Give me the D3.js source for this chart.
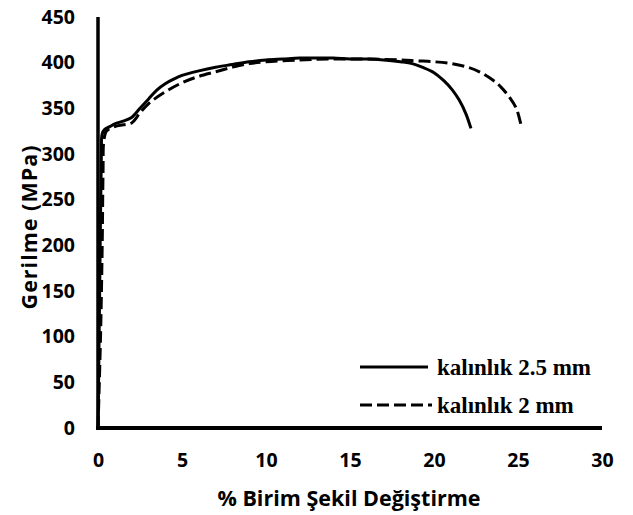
<!DOCTYPE html>
<html><head><meta charset="utf-8">
<script src="https://cdn.jsdelivr.net/npm/d3@7"></script>
<style>body{margin:0;background:#fff}</style>
</head><body>
<script>
const xTicks = [0,5,10,15,20,25,30];
const yTicks = [0,50,100,150,200,250,300,350,400,450];
const seriesNames = ["kalınlık 2.5 mm","kalınlık 2 mm"];
const strain25 = [0,0.1,0.2,0.25,0.4,0.7,1.0,1.5,2.0,2.5,3.0,3.5,4.0,4.5,5.0,6.0,7.0,8.0,9.0,10,11,12,13,14,15,16,17,18,18.7,19.3,20,20.6,21.1,21.5,21.9,22.2];
const stress25 = [0,150,300,322,327,330,333,336,340,350,360,370,377,382,386,391,395,398,401,403,404,405,405,405,404,404,403,401,399,395,389,380,370,359,344,328];
const strain2 = [0,0.15,0.25,0.3,0.35,0.5,1,1.5,2,2.5,3,4,5,6,7,8,9,10,12,14,16,18,19,20,21,22,22.7,23.5,24,24.5,24.9,25.2];
const stress2 = [0,100,200,280,315,325,330,332,334,345,355,368,378,385,390,395,399,401,403,404,404,403,402,401,399,395,390,381,373,362,350,330];

const W=633,H=515;
const svg=d3.select("body").append("svg").attr("width",W).attr("height",H);
const x=d3.scaleLinear().domain([0,30]).range([98,602]);
const y=d3.scaleLinear().domain([0,450]).range([428,17]);
const tickFont="'Open Sans', sans-serif";

const d25=strain25.map((v,i)=>[v,stress25[i]]);
const d2=strain2.map((v,i)=>[v,stress2[i]]);
const lineY=d3.line().x(d=>x(d[0])).y(d=>y(d[1])).curve(d3.curveCatmullRom);

svg.append("path").attr("d",lineY(d2)).attr("fill","none").attr("stroke","#000").attr("stroke-width",3).attr("stroke-dasharray","12,5");
svg.append("path").attr("d",lineY(d25)).attr("fill","none").attr("stroke","#000").attr("stroke-width",3);

// axes
const gx=svg.append("g").attr("transform","translate(0,428)").call(d3.axisBottom(x).tickValues(xTicks).tickSize(0).tickPadding(25));
const gy=svg.append("g").attr("transform","translate(98,0)").call(d3.axisLeft(y).tickValues(yTicks).tickSize(0).tickPadding(23));
[gx,gy].forEach(g=>{
  g.select(".domain").attr("stroke","#000").attr("stroke-width",3.5);
  g.selectAll("text").attr("font-family",tickFont).attr("font-weight","bold").attr("font-size",19.5).attr("fill","#000");
});
gx.select(".domain").attr("stroke-width",4).attr("d","M96,0H602");
gy.select(".domain").attr("d","M0,17V430");

svg.append("text").attr("x",349).attr("y",506).attr("text-anchor","middle").attr("font-family",tickFont).attr("font-weight","bold").attr("font-size",21.5).text("% Birim Şekil Değiştirme");
svg.append("text").attr("transform","translate(37,227) rotate(-90)").attr("text-anchor","middle").attr("font-family",tickFont).attr("font-weight","bold").attr("font-size",21.5).attr("letter-spacing",1).text("Gerilme (MPa)");

// legend
const lg=svg.append("g");
const legY=[367,405];
seriesNames.forEach((n,i)=>{
  lg.append("line").attr("x1",360).attr("x2",i?432:428).attr("y1",legY[i]).attr("y2",legY[i]).attr("stroke","#000").attr("stroke-width",3).attr("stroke-dasharray",i?"12,5":null);
  lg.append("text").attr("x",437).attr("y",legY[i]+8).attr("font-family","'Liberation Serif', serif").attr("font-weight","bold").attr("font-size",23).text(n);
});
</script>
</body></html>
